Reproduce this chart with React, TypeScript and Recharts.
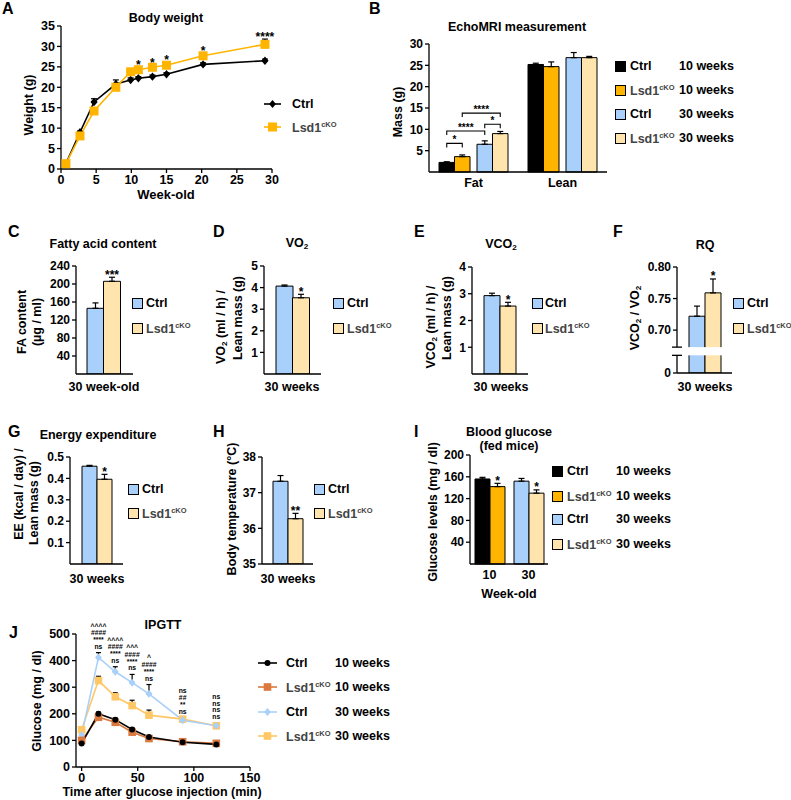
import React from "react";
import { BarChart, Bar, LineChart, Line, XAxis, YAxis, ErrorBar, LabelList, Cell } from "recharts";

const FONT = '"Liberation Sans", Arial, Helvetica, sans-serif';
const INK = "#000000";
const GOLD = "#FFB400";
const SKY = "#A9D0FA";
const CREAM = "#FFE4AD";
const RUST = "#DA783E";
const PEACH = "#FFC765";
const GREY = "#444444";

// A - body weight
const weekAge = [0.7, 2.7, 4.7, 7.8, 9.9, 11, 13, 15, 20.2, 29];
const ctrlWeight = [1.3, 9.0, 16.4, 20.8, 21.8, 22.2, 22.6, 23.2, 25.6, 26.5];
const ctrlWeightErr = [0.2, 0.3, 0.8, 1.0, 0.5, 0.4, 0.4, 0.4, 0.4, 0.4];
const koWeight = [1.3, 8.1, 14.2, 20.0, 23.8, 24.3, 24.9, 25.4, 27.7, 30.5];
const koWeightErr = [0.2, 0.3, 0.6, 0.5, 0.6, 0.5, 0.5, 0.6, 0.6, 1.3];
const weightSig = ["", "", "", "", "", "*", "*", "*", "*", "****"];
const weightTicks = [0, 5, 10, 15, 20, 25, 30, 35];
const weekTicks = [0, 5, 10, 15, 20, 25, 30];

// B - EchoMRI
const mriParts = ["Fat", "Lean"];
const ctrl10Mass = [2.25, 25.2];
const ctrl10MassErr = [0.15, 0.3];
const ko10Mass = [3.6, 24.7];
const ko10MassErr = [0.4, 1.1];
const ctrl30Mass = [6.5, 26.8];
const ctrl30MassErr = [0.8, 1.2];
const ko30Mass = [9.0, 26.8];
const ko30MassErr = [0.5, 0.3];
const massTicks = [5, 10, 15, 20, 25, 30];
const fatTests = [
  { from: 0, to: 1, level: 6.7, text: "*" },
  { from: 0, to: 2, level: 9.6, text: "****" },
  { from: 2, to: 3, level: 11.2, text: "*" },
  { from: 1, to: 3, level: 13.8, text: "****" },
];

// C-H - Ctrl vs Lsd1cKO at 30 weeks
const pairGroups = ["Ctrl", "Lsd1cKO"];
const faContent = [146, 206];
const faErr = [12, 9];
const faSig = ["", "***"];
const faTicks = [40, 80, 120, 160, 200, 240];
const vo2 = [4.07, 3.53];
const vo2Err = [0.05, 0.16];
const vo2Sig = ["", "*"];
const vo2Ticks = [1, 2, 3, 4, 5];
const vco2 = [2.93, 2.54];
const vco2Err = [0.09, 0.14];
const vco2Sig = ["", "*"];
const vco2Ticks = [1, 2, 3, 4];
const rq = [0.722, 0.759];
const rqErr = [0.016, 0.022];
const rqSig = ["", "*"];
const rqTicks = [0.7, 0.75, 0.8];
const energy = [0.457, 0.396];
const energyErr = [0.004, 0.023];
const energySig = ["", "*"];
const energyTicks = [0.1, 0.2, 0.3, 0.4, 0.5];
const bodyTemp = [37.32, 36.27];
const bodyTempErr = [0.16, 0.15];
const bodyTempSig = ["", "**"];
const bodyTempTicks = [35, 36, 37, 38];

// I - fed blood glucose
const glucoseAges = ["10", "30"];
const fedCtrl = [156, 152];
const fedCtrlErr = [3, 5];
const fedKo = [142, 130];
const fedKoErr = [6, 6];
const fedKoSig = ["*", "*"];
const glucoseTicks = [40, 80, 120, 160, 200];

// J - IPGTT
const ipgttTime = [0, 15, 30, 45, 60, 90, 120];
const gttCtrl10 = [88, 200, 178, 141, 113, 93, 85];
const gttCtrl10Err = [6, 6, 6, 6, 5, 5, 6];
const gttKo10 = [100, 187, 168, 131, 107, 95, 89];
const gttKo10Err = [8, 6, 6, 6, 5, 5, 5];
const gttCtrl30 = [120, 412, 358, 317, 275, 176, 155];
const gttCtrl30Err = [10, 18, 19, 31, 35, 8, 8];
const gttKo30 = [140, 325, 264, 231, 195, 180, 155];
const gttKo30Err = [10, 16, 15, 20, 19, 6, 10];
const gttSig = [
  [],
  ["^^^^", "####", "****", "ns"],
  ["^^^^", "####", "****", "ns"],
  ["^^^", "####", "****", "ns"],
  ["^", "####", "****", "ns"],
  ["ns", "##", "**", "ns"],
  ["ns", "ns", "ns", "ns"],
];
const gttTicksY = [0, 100, 200, 300, 400, 500];
const gttTicksX = [0, 50, 100, 150];

// ---------- layout ----------
const TOP_PAD = 10;
const A_PLOT = { x: 61, y: 26, w: 211, h: 143 };
const B_PLOT = { x: 429, y: 44, w: 178, h: 128 };
const C_PLOT = { x: 76, y: 266, w: 57, h: 108 };
const D_PLOT = { x: 264, y: 266, w: 57, h: 108 };
const E_PLOT = { x: 472, y: 267, w: 56, h: 107 };
const F_PLOT = { x: 677, y: 267, w: 55, h: 106 };
const G_PLOT = { x: 70, y: 457, w: 53, h: 107 };
const H_PLOT = { x: 262, y: 457, w: 51, h: 107 };
const I_PLOT = { x: 470, y: 455, w: 78, h: 109 };
const J_PLOT = { x: 76, y: 634, w: 174, h: 133 };
const RQ_FLOOR = 0.632;
const RQ_BREAK = [0.66, 0.673];
const B_BAR = 15.5;
const B_GAP = 7;

const tickFont = (size = 12) => ({ fill: INK, fontSize: size, fontWeight: 700, fontFamily: FONT });
const axisStroke = { stroke: INK, strokeWidth: 1.3 };
const inkText = { fill: INK, stroke: "none" };

function chartBox(p: any, yw: number, xh: number, right = 10, top = TOP_PAD) {
  return {
    width: yw + p.w + right,
    height: top + p.h + xh,
    margin: { top, right, bottom: 0, left: 0 },
  };
}

function At({ plot, yw, top = TOP_PAD, children }: any) {
  return <div style={{ position: "absolute", left: plot.x - yw, top: plot.y - top }}>{children}</div>;
}

function box(p: any) {
  const v = p.viewBox || {};
  return {
    x: p.x ?? v.x,
    y: p.y ?? v.y,
    width: p.width ?? v.width ?? 0,
    height: p.height ?? v.height ?? 0,
  };
}

function T({ x, y, size = 12.5, anchor = "start", color = INK, children }: any) {
  const dx = anchor === "middle" ? "-50%" : anchor === "end" ? "-100%" : "0";
  return (
    <div style={{ position: "absolute", left: x, top: y, transform: `translate(${dx}, -50%)`, fontSize: size, fontWeight: 700, color, whiteSpace: "nowrap", lineHeight: 1 }}>
      {children}
    </div>
  );
}

function VT({ x, y, size = 12.5, children }: any) {
  return (
    <div style={{ position: "absolute", left: x, top: y, transform: "translate(-50%, -50%) rotate(-90deg)", fontSize: size, fontWeight: 700, whiteSpace: "nowrap", lineHeight: 1 }}>
      {children}
    </div>
  );
}

const Sup = ({ children }: any) => <span style={{ fontSize: "0.6em", verticalAlign: "0.6em" }}>{children}</span>;
const Sub = ({ children }: any) => <span style={{ fontSize: "0.65em", verticalAlign: "-0.35em" }}>{children}</span>;
const Lsd = () => (
  <span style={{ color: GREY }}>
    Lsd1<Sup>cKO</Sup>
  </span>
);

function Swatch({ x, y, color }: any) {
  return <div style={{ position: "absolute", left: x, top: y - 5.5, width: 11, height: 11, background: color, border: "1.3px solid #000", boxSizing: "border-box" }} />;
}

function Marker({ kind, cx, cy, color, r }: any) {
  if (kind === "sq") return <rect x={cx - r} y={cy - r} width={2 * r} height={2 * r} fill={color} />;
  if (kind === "dia") return <path d={`M${cx},${cy - r}L${cx + r * 0.85},${cy}L${cx},${cy + r}L${cx - r * 0.85},${cy}Z`} fill={color} />;
  return <circle cx={cx} cy={cy} r={r} fill={color} />;
}

function LineKey({ x, y, w, color, kind, r }: any) {
  return (
    <svg style={{ position: "absolute", left: x, top: y - 6 }} width={w} height={12}>
      <line x1={0} y1={6} x2={w} y2={6} stroke={color} strokeWidth={1.6} />
      <Marker kind={kind} cx={w / 2} cy={6} color={color} r={r} />
    </svg>
  );
}

const dotOf = (kind: string, color: string, r: number) => (p: any) => (
  <g key={`d${p.index}`}>{p.cx == null ? null : <Marker kind={kind} cx={p.cx} cy={p.cy} color={color} r={r} />}</g>
);

function barStars(sig: string[], vals: number[], errs: number[], base: number, size = 12) {
  return (p: any) => {
    const i = p.index;
    const s = sig[i];
    if (!s) return null;
    const b = box(p);
    const ppu = b.height / (vals[i] - base);
    const top = b.y - errs[i] * ppu;
    return (
      <text x={b.x + b.width / 2} y={top + 1.5} textAnchor="middle" fontSize={size} fontWeight={700} fontFamily={FONT} style={inkText}>
        {s}
      </text>
    );
  };
}

// ---------- panels ----------
function PanelA() {
  const rows = weekAge.map((w, i) => ({ week: w, ctrl: ctrlWeight[i], ctrlE: [0, ctrlWeightErr[i]], ko: koWeight[i], koE: [0, koWeightErr[i]] }));
  const ppu = A_PLOT.h / 35;
  const stars = (p: any) => {
    const s = weightSig[p.index];
    if (!s) return null;
    const b = box(p);
    return (
      <text x={b.x} y={b.y - koWeightErr[p.index] * ppu + 1.5} textAnchor="middle" fontSize={12} fontWeight={700} fontFamily={FONT} style={inkText}>
        {s}
      </text>
    );
  };
  return (
    <>
      <T x={2} y={9} size={16}>A</T>
      <T x={166} y={18} anchor="middle">Body weight</T>
      <T x={166} y={194} anchor="middle" size={13}>Week-old</T>
      <VT x={29} y={105}>Weight (g)</VT>
      <At plot={A_PLOT} yw={40}>
        <LineChart {...chartBox(A_PLOT, 40, 26, 12)} data={rows}>
          <XAxis type="number" dataKey="week" domain={[0, 30]} ticks={weekTicks} interval={0} tick={tickFont(12.5)} tickSize={4} axisLine={axisStroke} tickLine={axisStroke} height={26} />
          <YAxis type="number" domain={[0, 35]} ticks={weightTicks} interval={0} width={40} tick={tickFont(12.5)} tickSize={4} axisLine={axisStroke} tickLine={axisStroke} />
          <Line dataKey="ctrl" stroke={INK} strokeWidth={1.6} dot={dotOf("dia", INK, 4.2)} isAnimationActive={false}>
            <ErrorBar dataKey="ctrlE" direction="y" width={3} stroke={INK} strokeWidth={1.2} />
          </Line>
          <Line dataKey="ko" stroke={GOLD} strokeWidth={1.6} dot={dotOf("sq", GOLD, 4.5)} isAnimationActive={false}>
            <ErrorBar dataKey="koE" direction="y" width={3} stroke={INK} strokeWidth={1.2} />
            <LabelList dataKey="ko" content={stars} />
          </Line>
        </LineChart>
      </At>
      <LineKey x={264} y={104} w={17} color={INK} kind="dia" r={4} />
      <T x={292} y={104}>Ctrl</T>
      <LineKey x={264} y={127} w={17} color={GOLD} kind="sq" r={4.5} />
      <T x={292} y={127}><Lsd /></T>
    </>
  );
}

function PanelB() {
  const rows = mriParts.map((part, i) => ({
    part,
    c10: ctrl10Mass[i], c10e: [0, ctrl10MassErr[i]],
    k10: ko10Mass[i], k10e: [0, ko10MassErr[i]],
    gap: 0,
    c30: ctrl30Mass[i], c30e: [0, ctrl30MassErr[i]],
    k30: ko30Mass[i], k30e: [0, ko30MassErr[i]],
  }));
  const brackets = (p: any) => {
    if (p.index !== 0) return null;
    const b = box(p);
    const ppu = b.height / ctrl10Mass[0];
    const zero = b.y + b.height;
    const cx = [0, 1, 2, 3].map((k) => b.x + b.width * k + (k >= 2 ? B_GAP : 0) + b.width / 2);
    return (
      <g>
        {fatTests.map((t, k) => {
          const y = zero - t.level * ppu;
          const x1 = cx[t.from];
          const x2 = cx[t.to];
          return (
            <g key={k}>
              <path d={`M${x1},${y + 4}L${x1},${y}L${x2},${y}L${x2},${y + 4}`} fill="none" stroke={INK} strokeWidth={1.1} />
              <text x={(x1 + x2) / 2} y={y - 0.5} textAnchor="middle" fontSize={10} fontWeight={700} fontFamily={FONT} style={inkText}>
                {t.text}
              </text>
            </g>
          );
        })}
      </g>
    );
  };
  const eb = (k: string) => <ErrorBar dataKey={k} direction="y" width={3} stroke={INK} strokeWidth={1.2} />;
  return (
    <>
      <T x={369} y={9} size={16}>B</T>
      <T x={517} y={27} anchor="middle">EchoMRI measurement</T>
      <VT x={398} y={112}>Mass (g)</VT>
      <At plot={B_PLOT} yw={40}>
        <BarChart {...chartBox(B_PLOT, 40, 24, 6)} data={rows} barGap={0}>
          <XAxis dataKey="part" tick={tickFont(12.5)} tickLine={false} tickSize={4} axisLine={axisStroke} height={24} />
          <YAxis type="number" domain={[0, 30]} ticks={massTicks} interval={0} width={40} tick={tickFont(12)} tickSize={4} axisLine={axisStroke} tickLine={axisStroke} />
          <Bar dataKey="c10" barSize={B_BAR} fill={INK} stroke={INK} strokeWidth={1} isAnimationActive={false}>
            {eb("c10e")}
            <LabelList dataKey="c10" content={brackets} />
          </Bar>
          <Bar dataKey="k10" barSize={B_BAR} fill={GOLD} stroke={INK} strokeWidth={1} isAnimationActive={false}>
            {eb("k10e")}
          </Bar>
          <Bar dataKey="gap" barSize={B_GAP} fill="none" isAnimationActive={false} />
          <Bar dataKey="c30" barSize={B_BAR} fill={SKY} stroke={INK} strokeWidth={1} isAnimationActive={false}>
            {eb("c30e")}
          </Bar>
          <Bar dataKey="k30" barSize={B_BAR} fill={CREAM} stroke={INK} strokeWidth={1} isAnimationActive={false}>
            {eb("k30e")}
          </Bar>
        </BarChart>
      </At>
      {[
        { c: INK, g: <>Ctrl</>, a: "10 weeks", y: 66 },
        { c: GOLD, g: <Lsd />, a: "10 weeks", y: 90 },
        { c: SKY, g: <>Ctrl</>, a: "30 weeks", y: 114 },
        { c: CREAM, g: <Lsd />, a: "30 weeks", y: 138 },
      ].map((r, i) => (
        <React.Fragment key={i}>
          <Swatch x={615} y={r.y} color={r.c} />
          <T x={630} y={r.y}>{r.g}</T>
          <T x={679} y={r.y}>{r.a}</T>
        </React.Fragment>
      ))}
    </>
  );
}

function PairChart({ plot, vals, errs, sig, ticks, domain, base = 0, padL, padR, fmt }: any) {
  const rows = pairGroups.map((g, i) => ({ g, v: vals[i], e: [0, errs[i]] }));
  return (
    <At plot={plot} yw={44}>
      <BarChart {...chartBox(plot, 44, 10, 6)} data={rows} barCategoryGap={0} barGap={0}>
        <XAxis dataKey="g" tick={false} tickLine={false} axisLine={axisStroke} height={10} padding={{ left: padL, right: padR }} />
        <YAxis type="number" domain={domain} ticks={ticks} interval={0} width={44} tick={tickFont(12)} tickSize={4} axisLine={axisStroke} tickLine={axisStroke} tickFormatter={fmt} allowDataOverflow />
        <Bar dataKey="v" stroke={INK} strokeWidth={1} isAnimationActive={false}>
          <Cell fill={SKY} />
          <Cell fill={CREAM} />
          <ErrorBar dataKey="e" direction="y" width={3} stroke={INK} strokeWidth={1.2} />
          <LabelList dataKey="v" content={barStars(sig, vals, errs, base)} />
        </Bar>
      </BarChart>
    </At>
  );
}

function PairKey({ x, tx, y1, y2 }: any) {
  return (
    <>
      <Swatch x={x} y={y1} color={SKY} />
      <T x={tx} y={y1}>Ctrl</T>
      <Swatch x={x} y={y2} color={CREAM} />
      <T x={tx} y={y2}><Lsd /></T>
    </>
  );
}

function RowTwo() {
  const yOf = (v: number) => F_PLOT.y + ((0.8 - v) / (0.8 - RQ_FLOOR)) * F_PLOT.h;
  const bTop = yOf(RQ_BREAK[1]);
  const bBot = yOf(RQ_BREAK[0]);
  return (
    <>
      <T x={8} y={232} size={16}>C</T>
      <T x={103} y={244} anchor="middle">Fatty acid content</T>
      <VT x={22} y={322}>FA content</VT>
      <VT x={37} y={322}>(µg / ml)</VT>
      <PairChart plot={C_PLOT} vals={faContent} errs={faErr} sig={faSig} ticks={faTicks} domain={[0, 240]} padL={11} padR={13} />
      <T x={104} y={387} anchor="middle">30 week-old</T>
      <PairKey x={132} tx={146} y1={303} y2={328} />

      <T x={213} y={232} size={16}>D</T>
      <T x={297} y={244} anchor="middle">VO<Sub>2</Sub></T>
      <VT x={222} y={327}>VO<Sub>2</Sub> (ml / h) /</VT>
      <VT x={238} y={318}>Lean mass (g)</VT>
      <PairChart plot={D_PLOT} vals={vo2} errs={vo2Err} sig={vo2Sig} ticks={vo2Ticks} domain={[0, 5]} padL={12} padR={12} />
      <T x={292} y={387} anchor="middle">30 weeks</T>
      <PairKey x={333} tx={347} y1={303} y2={328} />

      <T x={414} y={232} size={16}>E</T>
      <T x={501} y={245} anchor="middle">VCO<Sub>2</Sub></T>
      <VT x={432} y={327}>VCO<Sub>2</Sub> (ml / h) /</VT>
      <VT x={447} y={318}>Lean mass (g)</VT>
      <PairChart plot={E_PLOT} vals={vco2} errs={vco2Err} sig={vco2Sig} ticks={vco2Ticks} domain={[0, 4]} padL={12} padR={12} />
      <T x={501} y={387} anchor="middle">30 weeks</T>
      <PairKey x={532} tx={545} y1={303} y2={328} />

      <T x={613} y={232} size={16}>F</T>
      <T x={705} y={245} anchor="middle">RQ</T>
      <VT x={636} y={318}>VCO<Sub>2</Sub> / VO<Sub>2</Sub></VT>
      <PairChart
        plot={F_PLOT}
        vals={rq}
        errs={rqErr}
        sig={rqSig}
        ticks={[RQ_FLOOR, ...rqTicks]}
        domain={[RQ_FLOOR, 0.8]}
        base={RQ_FLOOR}
        padL={12}
        padR={11}
        fmt={(v: number) => (v === RQ_FLOOR ? "0" : v.toFixed(2))}
      />
      <svg style={{ position: "absolute", left: F_PLOT.x - 10, top: 0 }} width={F_PLOT.w + 12} height={400}>
        <rect x={0} y={bTop} width={F_PLOT.w + 12} height={bBot - bTop} fill="#fff" />
        <line x1={5} y1={bTop} x2={15} y2={bTop} stroke={INK} strokeWidth={1.3} />
        <line x1={5} y1={bBot} x2={15} y2={bBot} stroke={INK} strokeWidth={1.3} />
      </svg>
      <T x={705} y={387} anchor="middle">30 weeks</T>
      <PairKey x={733} tx={747} y1={303} y2={328} />
    </>
  );
}

function RowThree() {
  const rows = glucoseAges.map((a, i) => ({ a, c: fedCtrl[i], ce: [0, fedCtrlErr[i]], k: fedKo[i], ke: [0, fedKoErr[i]] }));
  const ctrlFill = [INK, SKY];
  const koFill = [GOLD, CREAM];
  return (
    <>
      <T x={8} y={432} size={16}>G</T>
      <T x={98} y={435} anchor="middle">Energy expenditure</T>
      <VT x={19} y={494}>EE (kcal / day) /</VT>
      <VT x={34} y={503}>Lean mass (g)</VT>
      <PairChart plot={G_PLOT} vals={energy} errs={energyErr} sig={energySig} ticks={energyTicks} domain={[0, 0.5]} padL={12} padR={11} />
      <T x={97} y={579} anchor="middle">30 weeks</T>
      <PairKey x={128} tx={142} y1={489} y2={513} />

      <T x={213} y={432} size={16}>H</T>
      <VT x={232} y={509}>Body temperature (°C)</VT>
      <PairChart plot={H_PLOT} vals={bodyTemp} errs={bodyTempErr} sig={bodyTempSig} ticks={bodyTempTicks} domain={[35, 38]} base={35} padL={11} padR={10} />
      <T x={288} y={579} anchor="middle">30 weeks</T>
      <PairKey x={314} tx={328} y1={489} y2={513} />

      <T x={414} y={432} size={16}>I</T>
      <T x={509} y={432} anchor="middle">Blood glucose</T>
      <T x={509} y={446} anchor="middle">(fed mice)</T>
      <VT x={433} y={512}>Glucose levels (mg / dl)</VT>
      <At plot={I_PLOT} yw={44}>
        <BarChart {...chartBox(I_PLOT, 44, 24, 6)} data={rows} barGap={0}>
          <XAxis dataKey="a" tick={tickFont(12.5)} tickLine={false} tickSize={4} axisLine={axisStroke} height={24} />
          <YAxis type="number" domain={[0, 200]} ticks={glucoseTicks} interval={0} width={44} tick={tickFont(12)} tickSize={4} axisLine={axisStroke} tickLine={axisStroke} />
          <Bar dataKey="c" barSize={15} stroke={INK} strokeWidth={1} isAnimationActive={false}>
            {glucoseAges.map((a, i) => <Cell key={a} fill={ctrlFill[i]} />)}
            <ErrorBar dataKey="ce" direction="y" width={3} stroke={INK} strokeWidth={1.2} />
          </Bar>
          <Bar dataKey="k" barSize={15} stroke={INK} strokeWidth={1} isAnimationActive={false}>
            {glucoseAges.map((a, i) => <Cell key={a} fill={koFill[i]} />)}
            <ErrorBar dataKey="ke" direction="y" width={3} stroke={INK} strokeWidth={1.2} />
            <LabelList dataKey="k" content={barStars(fedKoSig, fedKo, fedKoErr, 0)} />
          </Bar>
        </BarChart>
      </At>
      <T x={509} y={594} anchor="middle">Week-old</T>
      {[
        { c: INK, g: <>Ctrl</>, a: "10 weeks", y: 471 },
        { c: GOLD, g: <Lsd />, a: "10 weeks", y: 496 },
        { c: SKY, g: <>Ctrl</>, a: "30 weeks", y: 519 },
        { c: CREAM, g: <Lsd />, a: "30 weeks", y: 544 },
      ].map((r, i) => (
        <React.Fragment key={i}>
          <Swatch x={552} y={r.y} color={r.c} />
          <T x={567} y={r.y}>{r.g}</T>
          <T x={616} y={r.y}>{r.a}</T>
        </React.Fragment>
      ))}
    </>
  );
}

function PanelJ() {
  const rows = ipgttTime.map((t, i) => ({
    t,
    c10: gttCtrl10[i], c10e: [0, gttCtrl10Err[i]],
    k10: gttKo10[i], k10e: [0, gttKo10Err[i]],
    c30: gttCtrl30[i], c30e: [0, gttCtrl30Err[i]],
    k30: gttKo30[i], k30e: [0, gttKo30Err[i]],
  }));
  const ppu = J_PLOT.h / 500;
  const stack = (p: any) => {
    const i = p.index;
    const lines = gttSig[i];
    if (!lines || !lines.length) return null;
    const b = box(p);
    const topC = b.y - gttCtrl30Err[i] * ppu;
    const topK = b.y + (gttCtrl30[i] - gttKo30[i]) * ppu - gttKo30Err[i] * ppu;
    const base = Math.min(topC, topK) - 4;
    return (
      <g fill={INK} stroke="none">
        {lines.map((s, k) => (
          <text key={k} x={b.x} y={base - (lines.length - 1 - k) * 6.7} textAnchor="middle" fontSize={6.8} fontWeight={700} fontFamily={FONT} style={inkText}>
            {s}
          </text>
        ))}
      </g>
    );
  };
  const eb = (k: string) => <ErrorBar dataKey={k} direction="y" width={2.5} stroke={INK} strokeWidth={1.2} />;
  const jTop = 24;
  return (
    <>
      <T x={9} y={633} size={16}>J</T>
      <T x={163} y={625} anchor="middle">IPGTT</T>
      <VT x={37} y={701}>Glucose (mg / dl)</VT>
      <At plot={J_PLOT} yw={44} top={jTop}>
        <LineChart {...chartBox(J_PLOT, 44, 24, 14, jTop)} data={rows}>
          <XAxis type="number" dataKey="t" domain={[-5, 150]} ticks={gttTicksX} interval={0} tick={tickFont(12.5)} tickSize={4} axisLine={axisStroke} tickLine={axisStroke} height={24} />
          <YAxis type="number" domain={[0, 500]} ticks={gttTicksY} interval={0} width={44} tick={tickFont(12.5)} tickSize={4} axisLine={axisStroke} tickLine={axisStroke} />
          <Line dataKey="k30" stroke={PEACH} strokeWidth={1.6} dot={dotOf("sq", PEACH, 3.8)} isAnimationActive={false}>
            {eb("k30e")}
          </Line>
          <Line dataKey="c30" stroke={SKY} strokeWidth={1.6} dot={dotOf("dia", SKY, 4)} isAnimationActive={false}>
            {eb("c30e")}
            <LabelList dataKey="c30" content={stack} />
          </Line>
          <Line dataKey="k10" stroke={RUST} strokeWidth={1.6} dot={dotOf("sq", RUST, 3.8)} isAnimationActive={false}>
            {eb("k10e")}
          </Line>
          <Line dataKey="c10" stroke={INK} strokeWidth={1.6} dot={dotOf("circle", INK, 3)} isAnimationActive={false}>
            {eb("c10e")}
          </Line>
        </LineChart>
      </At>
      <T x={162} y={792} anchor="middle">Time after glucose injection (min)</T>
      {[
        { c: INK, k: "circle", r: 3, g: <>Ctrl</>, a: "10 weeks", y: 663 },
        { c: RUST, k: "sq", r: 3.8, g: <Lsd />, a: "10 weeks", y: 687 },
        { c: SKY, k: "dia", r: 4, g: <>Ctrl</>, a: "30 weeks", y: 712 },
        { c: PEACH, k: "sq", r: 3.8, g: <Lsd />, a: "30 weeks", y: 736 },
      ].map((r, i) => (
        <React.Fragment key={i}>
          <LineKey x={258} y={r.y} w={19} color={r.c} kind={r.k} r={r.r} />
          <T x={286} y={r.y}>{r.g}</T>
          <T x={335} y={r.y}>{r.a}</T>
        </React.Fragment>
      ))}
    </>
  );
}

export default function App() {
  return (
    <div style={{ position: "absolute", left: 0, top: 0, width: 791, height: 800, background: "#fff", fontFamily: FONT, overflow: "hidden" }}>
      <PanelA />
      <PanelB />
      <RowTwo />
      <RowThree />
      <PanelJ />
    </div>
  );
}
